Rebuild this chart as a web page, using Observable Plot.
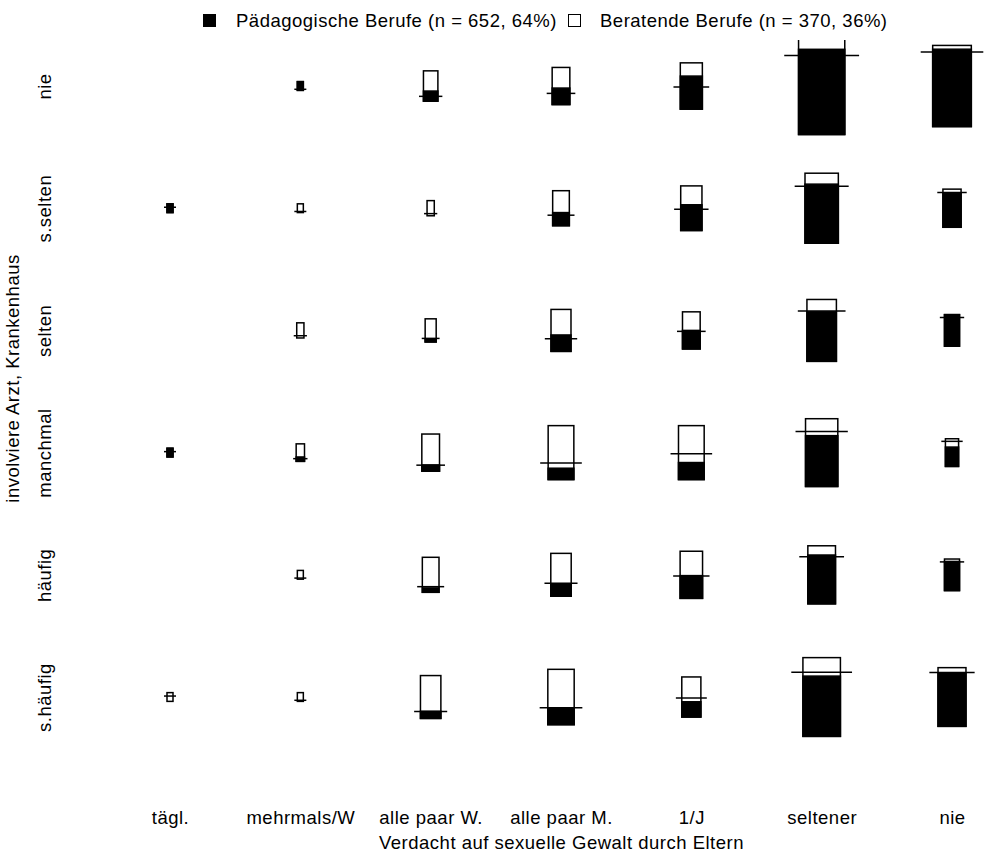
<!DOCTYPE html>
<html><head><meta charset="utf-8">
<script src="https://cdn.jsdelivr.net/npm/d3@7"></script>
<script src="https://cdn.jsdelivr.net/npm/@observablehq/plot@0.6"></script>
<style>
body{margin:0;background:#fff;font-family:"Liberation Sans",Arial,sans-serif;}
#legend{position:relative;height:40px;width:985px;font-size:18.5px;letter-spacing:0.5px;color:#000;}
.sw{position:absolute;top:14px;width:13px;height:13px;box-sizing:border-box;border:1.5px solid #000;}
.lt{position:absolute;top:11px;line-height:20px;white-space:nowrap;}
svg text{letter-spacing:0.5px;}
</style></head><body>
<div id="legend"></div>
<div id="chart"></div>
<script>
// Columns: Verdacht auf sexuelle Gewalt durch Eltern
const cols = ["tägl.", "mehrmals/W", "alle paar W.", "alle paar M.", "1/J", "seltener", "nie"];
// Rows: involviere Arzt, Krankenhaus
const rows = ["nie", "s.selten", "selten", "manchmal", "häufig", "s.häufig"];
// Groups
const groups = ["Pädagogische Berufe", "Beratende Berufe"];
const groupN = [652, 370];
const groupPct = [64, 36];
// counts per cell [row][col], null = no cases
const ped = [
  [null, 1, 4, 8, 20, 108, 82],
  [1, 0, 0, 6, 15, 54, 17],
  [null, 0, 1, 9, 9, 40, 13],
  [1, 1, 3, 8, 12, 45, 7],
  [null, 0, 2, 7, 14, 37, 12],
  [0, 0, 4, 12, 8, 62, 41]
];
const couns = [
  [null, 0, 8, 10, 8, 15, 4],
  [0, 1, 3, 10, 11, 10, 2],
  [null, 3, 6, 14, 9, 10, 0],
  [0, 3, 15, 30, 26, 15, 3],
  [null, 1, 14, 17, 15, 7, 1],
  [1, 1, 20, 28, 13, 19, 4]
];

// legend
const leg = document.getElementById("legend");
const swLeft = [203, 568], txLeft = [236, 600], swFill = ["#000", "#fff"];
groups.forEach((g, i) => {
  const s = document.createElement("div");
  s.className = "sw"; s.style.left = swLeft[i] + "px"; s.style.background = swFill[i];
  leg.appendChild(s);
  const t = document.createElement("div");
  t.className = "lt"; t.style.left = txLeft[i] + "px";
  t.textContent = `${g} (n = ${groupN[i]}, ${groupPct[i]}%)`;
  leg.appendChild(t);
});

// layout
const xRange = [170, 952], yRange = [46, 657];
const pxPerCol = (xRange[1] - xRange[0]) / (cols.length - 1);
const pxPerRow = (yRange[1] - yRange[0]) / (rows.length - 1);
const pxPerSqrtN = 8.75, aspect = 2.1, extFrac = 0.31;

// column share of pedagogical group (reference line)
const colShare = cols.map((_, c) => {
  let p = 0, t = 0;
  rows.forEach((_, r) => { if (ped[r][c] != null) { p += ped[r][c]; t += ped[r][c] + couns[r][c]; } });
  return t ? p / t : 0;
});

const cells = [];
rows.forEach((_, r) => cols.forEach((_, c) => {
  const p = ped[r][c], q = couns[r][c];
  if (p == null) return;
  const n = p + q;
  const hPx = pxPerSqrtN * Math.sqrt(n);
  const h = hPx / pxPerRow;
  const hw = Math.max(hPx / aspect, 6) / 2 / pxPerCol;
  const yBot = r + h / 2, yTop = r - h / 2;
  cells.push({
    r, c, p, q, n, hw, yTop, yBot,
    yBlack: yBot - h * p / n,
    yLine: yBot - h * colShare[c],
    ext: Math.max(extFrac * 2 * hw, 3 / pxPerCol)
  });
}));

const fs = 18.5;
const chart = Plot.plot({
  width: 985, height: 821,
  marginLeft: 45, marginRight: 0, marginTop: 0, marginBottom: 145,
  x: {domain: [0, cols.length - 1], range: xRange, axis: null},
  y: {domain: [0, rows.length - 1], range: yRange, axis: null},
  style: {fontFamily: '"Liberation Sans", Arial, sans-serif', background: "white", color: "black"},
  marks: [
    Plot.rect(cells, {x1: d => d.c - d.hw, x2: d => d.c + d.hw, y1: d => d.yTop, y2: d => d.yBot,
      fill: "white", stroke: "black", strokeWidth: 1.5}),
    Plot.rect(cells.filter(d => d.p > 0), {x1: d => d.c - d.hw, x2: d => d.c + d.hw, y1: d => d.yBlack, y2: d => d.yBot,
      fill: "black", stroke: "black", strokeWidth: 1.5}),
    Plot.ruleY(cells, {y: d => d.yLine, x1: d => d.c - d.hw - d.ext, x2: d => d.c + d.hw + d.ext,
      stroke: "black", strokeWidth: 1.5}),
    Plot.text(rows, {y: (d, i) => i, text: d => d, frameAnchor: "left", textAnchor: "middle", rotate: -90, fontSize: fs, fill: "black"}),
    Plot.text(["involviere Arzt, Krankenhaus"], {frameAnchor: "left", textAnchor: "middle", dx: -32, rotate: -90, fontSize: fs, fill: "black"}),
    Plot.text(cols, {x: (d, i) => i, text: d => d, frameAnchor: "bottom", dy: 107, fontSize: fs, fill: "black"}),
    Plot.text(["Verdacht auf sexuelle Gewalt durch Eltern"], {x: () => (cols.length - 1) / 2, frameAnchor: "bottom", dy: 132, fontSize: fs, fill: "black"})
  ]
});
document.getElementById("chart").appendChild(chart);
</script>
</body></html>
